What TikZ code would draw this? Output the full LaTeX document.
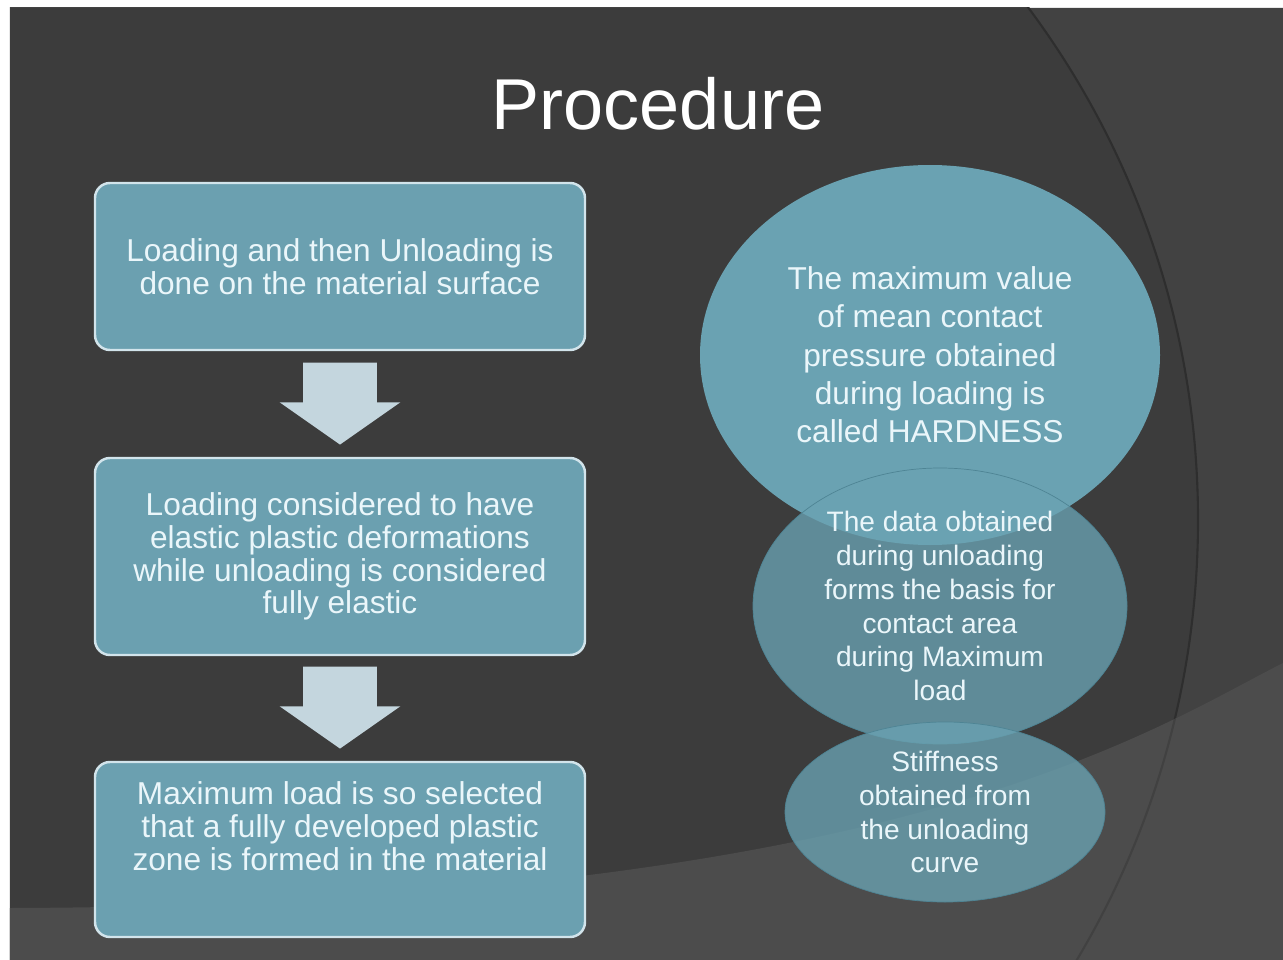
\documentclass[tikz,border=0pt]{standalone}
\usepackage{fontspec}
\setmainfont{Liberation Sans}
\usetikzlibrary{positioning, shapes.geometric, shapes.arrows, calc}
\definecolor{slide}{HTML}{3C3C3C}
\definecolor{slideright}{HTML}{424242}
\definecolor{slideband}{HTML}{4C4C4C}
\definecolor{arcline}{HTML}{2E2E2E}
\definecolor{arcband}{HTML}{414141}
\definecolor{boxteal}{HTML}{6BA0B0}
\definecolor{boxedge}{HTML}{D2E4EB}
\definecolor{arrowfill}{HTML}{C4D6DE}
\definecolor{ovalteal}{HTML}{6AA2B2}
\definecolor{ovaledge}{HTML}{4E8494}
\definecolor{paletext}{HTML}{EAF6FA}
\tikzset{
    stepbox/.style={draw=boxedge, line width=1.4pt, fill=boxteal, rounded corners=0.3cm,
        minimum width=9.8cm, outer sep=0pt, text=paletext, align=center,
        font=\fontsize{18pt}{18.7pt}\selectfont}, % the three step boxes on the left
    downarrow/.style={single arrow, rotate=-90, fill=arrowfill, inner xsep=0pt, inner ysep=0.73cm,
        minimum height=1.64cm, minimum width=2.4cm, single arrow head extend=0.47cm,
        single arrow tip angle=110, anchor=tip}, % block arrows between the boxes
    oval/.style={ellipse, fill=ovalteal, inner sep=0pt, text=paletext, align=center}, % the stacked ovals
    node distance=2.16cm, % gap between the boxes
}
\begin{document}
\begin{tikzpicture}
    \useasboundingbox (0,0) rectangle (25.66,-19.2);
    % slide background
    \fill[white] (0,0) rectangle (25.66,-19.2);
    \fill[slide] (0.2,-0.16) rectangle (25.66,-19.2);
    \begin{scope}
        \clip (0.2,-0.16) rectangle (25.66,-19.2);
        \fill[slideright, even odd rule] (0.2,-0.16) rectangle (25.66,-19.2) (6.8,-10.4) circle (17.16);
        \draw[arcline, line width=1.2pt] (6.8,-10.4) circle (17.16);
        \fill[slideband] (0.2,-18.16) .. controls (18,-18.1) and (23,-14.6) .. (25.66,-13.26) -- (25.66,-19.2) -- (0.2,-19.2) -- cycle;
        \clip (0.2,-18.16) .. controls (18,-18.1) and (23,-14.6) .. (25.66,-13.26) -- (25.66,-19.2) -- (0.2,-19.2) -- cycle;
        \draw[arcband, line width=1.2pt] (6.8,-10.4) circle (17.16);
    \end{scope}

    \node[text=white, font=\fontsize{41pt}{49pt}\selectfont, anchor=base] (title) at (13.16,-2.6) {Procedure};

    % steps
    \node[stepbox, minimum height=3.34cm] (b1) at (6.8,-5.33) {Loading and then Unloading is\\done on the material surface};
    \node[stepbox, minimum height=3.94cm, below=of b1] (b2) {Loading considered to have\\elastic plastic deformations\\while unloading is considered\\fully elastic};
    \node[stepbox, minimum height=3.5cm, text depth=0.94cm, below=2.14cm of b2] (b3) {Maximum load is so selected\\that a fully developed plastic\\zone is formed in the material};
    \node[downarrow] (a1) at ($(b2.north)+(0,0.26)$) {};
    \node[downarrow] (a2) at ($(b3.north)+(0,0.26)$) {};

    % ovals
    \node[oval, minimum width=9.2cm, minimum height=7.6cm, font=\fontsize{18pt}{21.8pt}\selectfont] (o1) at (18.6,-7.1)
        {The maximum value\\of mean contact\\pressure obtained\\during loading is\\called HARDNESS};
    \node[oval, draw=ovaledge, fill opacity=0.78, text opacity=1, minimum width=7.48cm, minimum height=5.52cm,
        font=\fontsize{16pt}{19.3pt}\selectfont] (o2) at (18.8,-12.12)
        {The data obtained\\during unloading\\forms the basis for\\contact area\\during Maximum\\load};
    \node[oval, draw=ovaledge, fill opacity=0.78, text opacity=1, minimum width=6.4cm, minimum height=3.6cm,
        font=\fontsize{16pt}{19.3pt}\selectfont] (o3) at (18.9,-16.24)
        {Stiffness\\obtained from\\the unloading\\curve};
\end{tikzpicture}
\end{document}
